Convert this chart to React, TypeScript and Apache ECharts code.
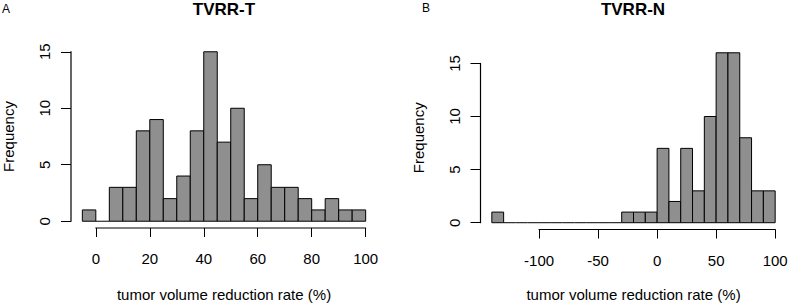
import React, { useEffect, useRef } from "react";
import * as echarts from "echarts";

// Panel A: TVRR-T histogram (bin edges and counts)
const breaksA = [-5, 0, 5, 10, 15, 20, 25, 30, 35, 40, 45, 50, 55, 60, 65, 70, 75, 80, 85, 90, 95, 100];
const countsA = [1, 0, 3, 3, 8, 9, 2, 4, 8, 15, 7, 10, 2, 5, 3, 3, 2, 1, 2, 1, 1];
const xTicksA = [0, 20, 40, 60, 80, 100];
const yTicksA = [0, 5, 10, 15];

// Panel B: TVRR-N histogram
const breaksB = [-140, -130, -120, -110, -100, -90, -80, -70, -60, -50, -40, -30, -20, -10, 0, 10, 20, 30, 40, 50, 60, 70, 80, 90, 100];
const countsB = [1, 0, 0, 0, 0, 0, 0, 0, 0, 0, 0, 1, 1, 1, 7, 2, 7, 3, 10, 16, 16, 8, 3, 3];
const xTicksB = [-100, -50, 0, 50, 100];
const yTicksB = [0, 5, 10, 15];

const titles = ["TVRR-T", "TVRR-N"];
const panelLetters = ["A", "B"];
const xLabel = "tumor volume reduction rate (%)";
const yLabel = "Frequency";

const FONT = "'Liberation Sans', Arial, Helvetica, sans-serif";
const BAR_FILL = "#8f8f8f";

function binData(breaks: number[], counts: number[]) {
  return counts.map((c, i) => [breaks[i], breaks[i + 1], c]);
}

// R-style 4% extended usr range
function usr(lo: number, hi: number) {
  const d = (hi - lo) * 0.04;
  return [lo - d, hi + d];
}

export default function App() {
  const ref = useRef<HTMLDivElement>(null);

  useEffect(() => {
    if (!ref.current) return;
    const chart = echarts.init(ref.current, null, { renderer: "svg" });

    const panels = [
      { breaks: breaksA, counts: countsA, xTicks: xTicksA, yTicks: yTicksA, nameGap: 59 },
      { breaks: breaksB, counts: countsB, xTicks: xTicksB, yTicks: yTicksB, nameGap: 57 },
    ];
    const grids = [
      { left: 71, top: 45, width: 306, height: 183, outerBoundsMode: "none", containLabel: false },
      { left: 480.5, top: 46, width: 306, height: 183.5, outerBoundsMode: "none", containLabel: false },
    ];

    const xAxes: any[] = [];
    const yAxes: any[] = [];
    const series: any[] = [];

    panels.forEach((p, i) => {
      const [xmin, xmax] = usr(p.breaks[0], p.breaks[p.breaks.length - 1]);
      const [ymin, ymax] = usr(0, Math.max(...p.counts));
      xAxes.push({
        type: "value",
        gridIndex: i,
        position: "bottom",
        min: xmin,
        max: xmax,
        axisLine: { show: false, onZero: false },
        splitLine: { show: false },
        axisTick: {
          show: true,
          customValues: p.xTicks,
          length: 9,
          lineStyle: { color: "#000", width: 1 },
        },
        axisLabel: {
          customValues: p.xTicks,
          margin: 23,
          fontSize: 15,
          fontFamily: FONT,
          color: "#000",
        },
        name: xLabel,
        nameLocation: "middle",
        nameGap: p.nameGap,
        nameTextStyle: { fontSize: 15, fontFamily: FONT, color: "#000" },
      });
      yAxes.push({
        type: "value",
        gridIndex: i,
        position: "left",
        min: ymin,
        max: ymax,
        axisLine: { show: false, onZero: false },
        splitLine: { show: false },
        axisTick: {
          show: true,
          customValues: p.yTicks,
          length: 10,
          lineStyle: { color: "#000", width: 1 },
        },
        axisLabel: {
          customValues: p.yTicks,
          rotate: 90,
          margin: 19,
          fontSize: 15,
          fontFamily: FONT,
          color: "#000",
        },
        name: yLabel,
        nameLocation: "middle",
        nameRotate: 90,
        nameGap: 55,
        nameTextStyle: { fontSize: 15, fontFamily: FONT, color: "#000" },
      });

      series.push({
        type: "custom",
        xAxisIndex: i,
        yAxisIndex: i,
        data: binData(p.breaks, p.counts),
        encode: { x: [0, 1], y: 2 },
        clip: false,
        renderItem: (params: any, api: any) => {
          const x0 = api.value(0);
          const x1 = api.value(1);
          const c = api.value(2);
          const p0 = api.coord([x0, 0]);
          const p1 = api.coord([x1, c]);
          if (c === 0) {
            return {
              type: "line",
              shape: { x1: p0[0], y1: p0[1], x2: p1[0], y2: p0[1] },
              style: { stroke: "#000", lineWidth: 1 },
            };
          }
          return {
            type: "rect",
            shape: { x: p0[0], y: p1[1], width: p1[0] - p0[0], height: p0[1] - p1[1] },
            style: { fill: BAR_FILL, stroke: "#000", lineWidth: 1 },
          };
        },
      });

      // R-style axis lines spanning only the tick range
      const xt = p.xTicks;
      const yt = p.yTicks;
      series.push({
        type: "custom",
        xAxisIndex: i,
        yAxisIndex: i,
        data: [[xt[0], yt[0]]],
        encode: { x: 0, y: 1 },
        clip: false,
        silent: true,
        renderItem: (params: any, api: any) => {
          const a = api.coord([xt[0], ymin]);
          const b = api.coord([xt[xt.length - 1], ymin]);
          const c = api.coord([xmin, yt[0]]);
          const d = api.coord([xmin, yt[yt.length - 1]]);
          return {
            type: "group",
            children: [
              { type: "line", shape: { x1: a[0] - 0.5, y1: a[1], x2: b[0] + 0.5, y2: b[1] }, style: { stroke: "#000", lineWidth: 1.2 } },
              { type: "line", shape: { x1: c[0], y1: c[1] + 0.5, x2: d[0], y2: d[1] - 0.5 }, style: { stroke: "#000", lineWidth: 1.2 } },
            ],
          };
        },
      });
    });

    const titleOpts: any[] = [
      {
        text: titles[0],
        left: 224,
        top: 1,
        padding: 0,
        textAlign: "center",
        textStyle: { fontSize: 17, fontWeight: "bold", fontFamily: FONT, color: "#000" },
      },
      {
        text: titles[1],
        left: 633,
        top: 1,
        padding: 0,
        textAlign: "center",
        textStyle: { fontSize: 17, fontWeight: "bold", fontFamily: FONT, color: "#000" },
      },
      {
        text: panelLetters[0],
        left: 2,
        top: 3,
        padding: 0,
        textStyle: { fontSize: 12, fontWeight: "normal", fontFamily: FONT, color: "#000" },
      },
      {
        text: panelLetters[1],
        left: 422,
        top: 2,
        padding: 0,
        textStyle: { fontSize: 12, fontWeight: "normal", fontFamily: FONT, color: "#000" },
      },
    ];

    chart.setOption({
      animation: false,
      backgroundColor: "#fff",
      title: titleOpts,
      grid: grids,
      xAxis: xAxes,
      yAxis: yAxes,
      series,
    });

    return () => chart.dispose();
  }, []);

  return (
    <div
      ref={ref}
      style={{ position: "absolute", left: 0, top: 0, width: 788, height: 304 }}
    />
  );
}
